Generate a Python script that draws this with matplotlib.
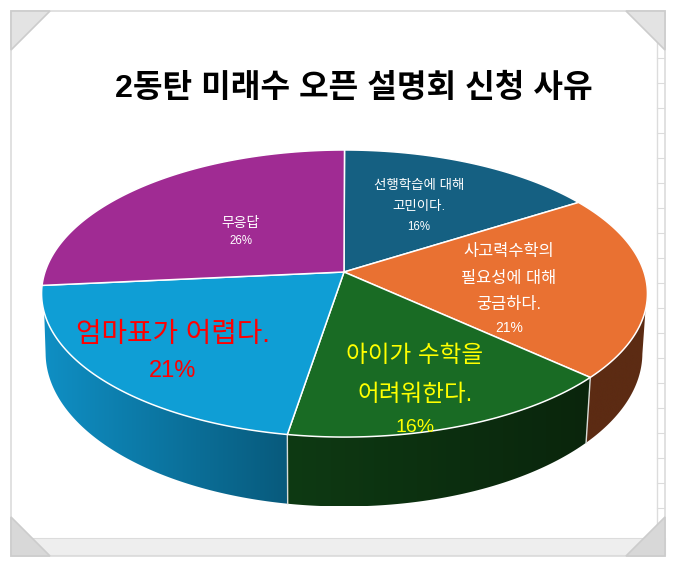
import matplotlib
matplotlib.use("Agg")
import matplotlib.pyplot as plt
import numpy as np
from matplotlib.colors import LinearSegmentedColormap
from matplotlib.patches import Polygon

plt.rcParams["font.family"] = ["Liberation Sans", "Noto Sans CJK KR"]

title = "2동탄 미래수 오픈 설명회 신청 사유"
shares = [16.0, 20.8, 15.8, 20.9, 26.5]
colors = ["#156082", "#E97132", "#196B24", "#0F9ED5", "#A02B93"]
labels = [
    ["선행학습에 대해", "고민이다.", "16%"],
    ["사고력수학의", "필요성에 대해", "궁금하다.", "21%"],
    ["아이가 수학을", "어려워한다.", "16%"],
    ["엄마표가 어렵다.", "21%"],
    ["무응답", "26%"],
]
label_x = [419, 509, 415, 173, 241]
label_y = [
    [185, 206, 226],
    [250, 277, 303, 326],
    [353, 392, 425],
    [332, 368],
    [221, 240],
]
label_colors = ["white", "white", "#FFFF00", "#FF0000", "white"]
label_sizes = [9.7, 11.8, 17, 20, 10]
pct_sizes = [8.3, 10, 14, 17, 8.3]

# slice index: (left colour, right colour, start deg on top, end deg on top, start deg on bottom, end deg on bottom)
walls = {
    1: ("#5C2B13", "#5C2B13", 105, None, 99, None),
    2: ("#0E3A13", "#0A250C", None, None, None, None),
    3: ("#0F8FC4", "#085A7C", None, 254, None, 261),
}


def top_rim(theta):
    # perspective view of the disc, theta clockwise from 12 o'clock
    X, Y = np.sin(theta), np.cos(theta)
    d = 1 + 0.15 * Y
    return 344.5 + 299.5 * X / d, 272 - 140.3 * Y / d


def bottom_rim(theta):
    X, Y = np.sin(theta), np.cos(theta)
    d = 1 + 0.15 * Y
    return 344 + 295 * X / d, 330 - 150 * Y / d


def draw_frame(ax):
    grey = "#DCDCDC"
    ax.add_patch(Polygon([(11, 11), (665, 11), (665, 556), (11, 556)],
                         fc="white", ec=grey, lw=1.2, zorder=0))
    ax.add_patch(Polygon([(12, 538), (665, 538), (665, 555), (12, 555)],
                         fc="#EEEEEE", ec=grey, lw=0.8, zorder=0.5))
    ax.plot([657, 657], [12, 538], color=grey, lw=1, zorder=0.5)
    for y in range(33, 520, 25):
        ax.plot([657, 664], [y, y], color=grey, lw=0.8, zorder=0.5)
    top_corners = [[(11, 11), (50, 11), (11, 50)], [(665, 11), (626, 11), (665, 50)]]
    low_corners = [[(11, 556), (50, 556), (11, 517)], [(665, 556), (626, 556), (665, 517)]]
    for tri in top_corners:
        ax.add_patch(Polygon(tri, fc="#E3E3E3", ec="#CCCCCC", lw=1.2, zorder=1))
    for tri in low_corners:
        ax.add_patch(Polygon(tri, fc="#D8D8D8", ec="#CCCCCC", lw=1.2, zorder=1))


def draw_wall(ax, i, edges):
    left, right, t0, t1, b0, b1 = walls[i]
    t0 = edges[i] if t0 is None else np.radians(t0)
    t1 = edges[i + 1] if t1 is None else np.radians(t1)
    b0 = edges[i] if b0 is None else np.radians(b0)
    b1 = edges[i + 1] if b1 is None else np.radians(b1)
    tx, ty = top_rim(np.linspace(t0, t1, 120))
    bx, by = bottom_rim(np.linspace(b0, b1, 120))
    pts = np.r_[np.c_[tx, ty], np.c_[bx, by][::-1]]
    poly = Polygon(pts, fc="none", ec="none", zorder=2)
    ax.add_patch(poly)
    cmap = LinearSegmentedColormap.from_list("wall", [left, right])
    im = ax.imshow(np.linspace(0, 1, 256)[None, :], cmap=cmap, aspect="auto", zorder=2,
                   extent=[pts[:, 0].min(), pts[:, 0].max(), pts[:, 1].max(), pts[:, 1].min()])
    im.set_clip_path(poly)


fig = plt.figure(figsize=(6.76, 5.67), dpi=100)
ax = fig.add_axes([0, 0, 1, 1])
draw_frame(ax)

edges = 2 * np.pi * np.cumsum([0] + shares) / sum(shares)

for i in walls:
    draw_wall(ax, i, edges)

# pale seams down the wall at slice boundaries
for e in edges[2:4]:
    tx, ty = top_rim(e)
    bx, by = bottom_rim(e)
    ax.plot([tx, bx], [ty, by], color="#D8DCD8", lw=1, zorder=2.5)

for i, color in enumerate(colors):
    x, y = top_rim(np.linspace(edges[i], edges[i + 1], 160))
    pts = np.r_[[(344, 272)], np.c_[x, y]]
    ax.add_patch(Polygon(pts, fc=color, ec="white", lw=1.1, joinstyle="round", zorder=3))

ax.set_xlim(0, 676)
ax.set_ylim(567, 0)
ax.axis("off")

ax.text(354, 89, title, fontsize=23.2, fontweight="bold", color="black",
        ha="center", va="center", zorder=5)

for lines, x, ys, c, size, pct in zip(labels, label_x, label_y, label_colors, label_sizes, pct_sizes):
    for line, y in zip(lines, ys):
        fs = pct if line.endswith("%") else size
        # va="center" sits a little high for these fonts
        ax.text(x, y + fs * 0.15, line, color=c, fontsize=fs, ha="center", va="center", zorder=5)

fig.savefig("out.png", dpi=100)
